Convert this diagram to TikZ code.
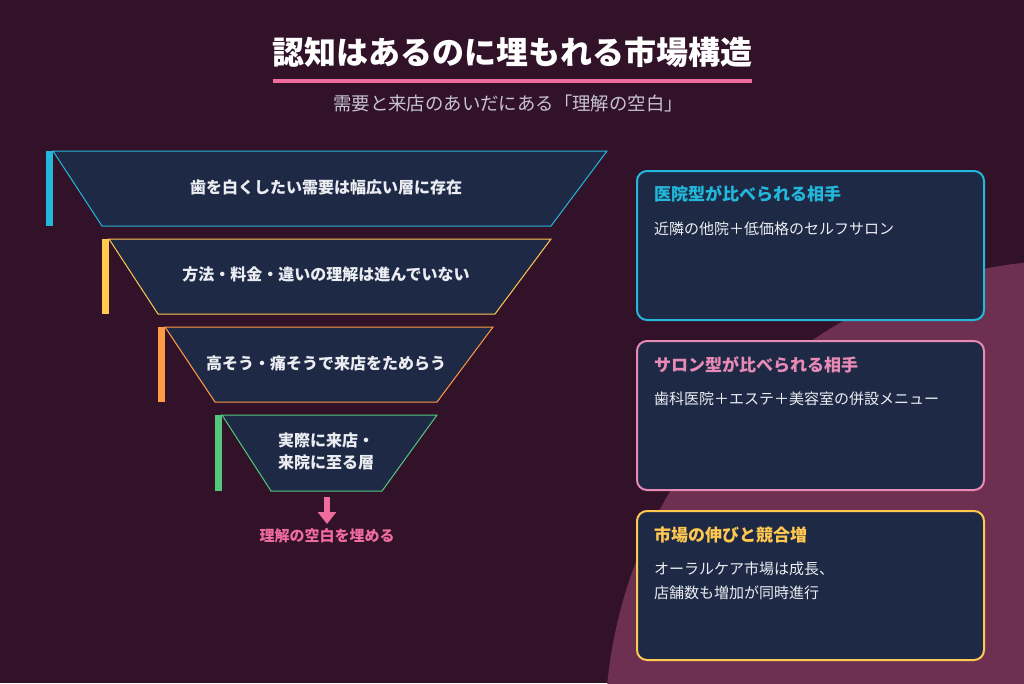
\documentclass[tikz,border=0pt]{standalone}
\usepackage{fontspec}
\setmainfont{Noto Sans CJK JP}
\usetikzlibrary{arrows.meta}
\definecolor{bgc}{HTML}{321229}
\definecolor{circc}{HTML}{6E3050}
\definecolor{navy}{HTML}{1E2A45}
\definecolor{cyanc}{HTML}{22B8DB}
\definecolor{yelc}{HTML}{FFC850}
\definecolor{orac}{HTML}{FF9A45}
\definecolor{grnc}{HTML}{52C87C}
\definecolor{pinkc}{HTML}{F06C9E}
\definecolor{pinkcard}{HTML}{E88AB6}
\definecolor{subc}{HTML}{C6C3D3}
\definecolor{bodyc}{HTML}{ECEDF3}
\tikzset{
  layerbox/.style={fill=navy, draw=#1, line width=1pt},
  accentbar/.style={fill=#1},
  ftext/.style={text=bodyc, font=\fontsize{16}{22}\selectfont\bfseries, align=center, inner sep=0pt, anchor=center},
  cardbox/.style={fill=navy, draw=#1, line width=2pt, rounded corners=10pt},
  cardtitle/.style={text=#1, font=\fontsize{17}{20}\selectfont\bfseries, anchor=west, inner sep=0pt},
  cardbody/.style={text=bodyc, font=\fontsize{15}{23.5}\selectfont, anchor=west, inner sep=0pt, align=left},
}
\begin{document}
\begin{tikzpicture}[x=1pt,y=-1pt]
\useasboundingbox (0,0) rectangle (1024,683);
\fill[bgc] (0,0) rectangle (1024,683);
\begin{scope}
  \clip (0,0) rectangle (1024,683);
  \fill[circc] (1075,730) circle[radius=470pt];
\end{scope}

% title
\node[text=white, font=\fontsize{32}{36}\selectfont\bfseries, inner sep=0pt] (title) at (512,52) {認知はあるのに埋もれる市場構造};
\fill[pinkc] (273,79) rectangle (752,83);
\node[text=subc, font=\fontsize{18.4}{22}\selectfont, inner sep=0pt] (sub) at (508,104) {需要と来店のあいだにある「理解の空白」};

% funnel layer 1
\path[layerbox=cyanc] (53,151) -- (607,151) -- (551,226) -- (102,226) -- cycle;
\fill[accentbar=cyanc] (46,151) rectangle (53,226);
\node[ftext] (l1) at (326,187) {歯を白くしたい需要は幅広い層に存在};

% layer 2
\path[layerbox=yelc] (109,239) -- (551,239) -- (495,314) -- (158,314) -- cycle;
\fill[accentbar=yelc] (102,239) rectangle (109,314);
\node[ftext] (l2) at (326,274) {方法・料金・違いの理解は進んでいない};

% layer 3
\path[layerbox=orac] (165,327) -- (493,327) -- (437,402) -- (215,402) -- cycle;
\fill[accentbar=orac] (158,327) rectangle (165,402);
\node[ftext] (l3) at (326,363) {高そう・痛そうで来店をためらう};

% layer 4
\path[layerbox=grnc] (222,415) -- (437,415) -- (382,491) -- (271,491) -- cycle;
\fill[accentbar=grnc] (215,415) rectangle (222,491);
\node[ftext] (l4) at (326,451) {実際に来店・\\来院に至る層};

% arrow and label
\coordinate (astart) at (327,497);
\node[text=pinkc, font=\fontsize{15}{18}\selectfont\bfseries, inner sep=0pt] (gap) at (327,536) {理解の空白を埋める};
\draw[pinkc, line width=6pt, -{Triangle[width=18pt,length=12pt]}] (astart) -- (327,524);

% cards
\draw[cardbox=cyanc] (637,171) rectangle (984,320);
\node[cardtitle=cyanc] (c1t) at (654,194) {医院型が比べられる相手};
\node[cardbody] (c1b) at (654,229) {近隣の他院＋低価格のセルフサロン};

\draw[cardbox=pinkcard] (637,341) rectangle (984,490);
\node[cardtitle=pinkcard] (c2t) at (654,365) {サロン型が比べられる相手};
\node[cardbody] (c2b) at (654,399) {歯科医院＋エステ＋美容室の併設メニュー};

\draw[cardbox=yelc] (637,511) rectangle (984,660);
\node[cardtitle=yelc] (c3t) at (654,535) {市場の伸びと競合増};
\node[cardbody] (c3b) at (654,581) {オーラルケア市場は成長、\\店舗数も増加が同時進行};
\end{tikzpicture}
\end{document}
